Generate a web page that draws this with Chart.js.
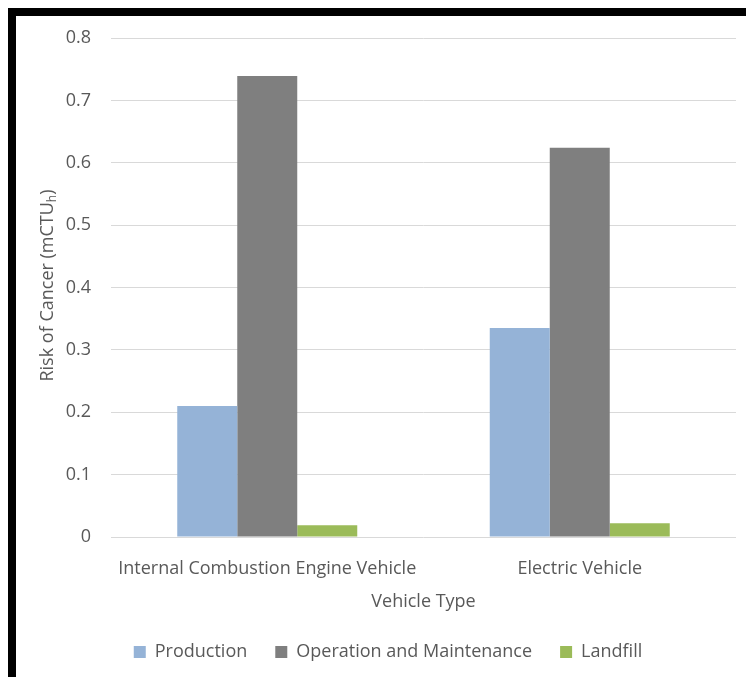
<!DOCTYPE html>
<html>
<head>
<meta charset="utf-8">
<script src="https://cdn.jsdelivr.net/npm/chart.js@4/dist/chart.umd.min.js"></script>
<style>
  html, body { margin: 0; padding: 0; background: #ffffff; }
  #wrap { width: 746px; height: 677px; position: relative; }
  canvas { display: block; }
</style>
</head>
<body>
<div id="wrap"><canvas id="chart" width="746" height="677"></canvas></div>
<script>
// Cancer risk by life-cycle stage for each vehicle type (mCTUh)
const categories = ['Internal Combustion Engine Vehicle', 'Electric Vehicle'];
const production = [0.21, 0.335];
const operationMaintenance = [0.739, 0.624];
const landfill = [0.019, 0.022];
const seriesNames = ['Production', 'Operation and Maintenance', 'Landfill'];
const yTickLabels = ['0', '0.1', '0.2', '0.3', '0.4', '0.5', '0.6', '0.7', '0.8'];

const FONT = '"Open Sans", "Liberation Sans", sans-serif';
const TEXT = '#595959';
const SIZE = 18;

// Black frame along the top and left edges
const framePlugin = {
  id: 'frame',
  beforeDraw(chart) {
    const ctx = chart.ctx;
    ctx.save();
    ctx.fillStyle = '#ffffff';
    ctx.fillRect(0, 0, chart.width, chart.height);
    ctx.fillStyle = '#000000';
    ctx.fillRect(8, 8, chart.width - 8, 8);
    ctx.fillRect(8, 8, 8, chart.height - 8);
    ctx.restore();
  }
};

// Nudge the legend row to sit centred under the whole figure
const legendShift = {
  id: 'legendShift',
  afterLayout(chart) {
    if (chart.legend) {
      chart.legend.left += 12;
      chart.legend.right += 12;
    }
  }
};

// Rotated y-axis title with a subscript "h"
const yTitlePlugin = {
  id: 'yTitle',
  afterDraw(chart) {
    const ctx = chart.ctx;
    const area = chart.chartArea;
    const main = 'Risk of Cancer (mCTU';
    const sub = 'h';
    const tail = ')';
    ctx.save();
    ctx.translate(48, (area.top + area.bottom) / 2 - 2);
    ctx.rotate(-Math.PI / 2);
    ctx.fillStyle = TEXT;
    ctx.textBaseline = 'middle';
    ctx.font = SIZE + 'px ' + FONT;
    const w1 = ctx.measureText(main).width;
    const w3 = ctx.measureText(tail).width;
    ctx.font = '12px ' + FONT;
    const w2 = ctx.measureText(sub).width;
    let x = -(w1 + w2 + w3) / 2;
    ctx.font = SIZE + 'px ' + FONT;
    ctx.fillText(main, x, 0);
    x += w1;
    ctx.font = '12px ' + FONT;
    ctx.fillText(sub, x, 5);
    x += w2;
    ctx.font = SIZE + 'px ' + FONT;
    ctx.fillText(tail, x, 0);
    ctx.restore();
  }
};

new Chart(document.getElementById('chart'), {
  type: 'bar',
  data: {
    labels: categories,
    datasets: [
      { label: seriesNames[0], data: production, backgroundColor: '#95b3d7' },
      { label: seriesNames[1], data: operationMaintenance, backgroundColor: '#7f7f7f' },
      { label: seriesNames[2], data: landfill, backgroundColor: '#9bbb59' }
    ]
  },
  options: {
    responsive: false,
    animation: false,
    layout: { padding: { left: 16, top: 38, right: 10, bottom: 6 } },
    datasets: { bar: { barPercentage: 1, categoryPercentage: 0.576, borderWidth: 0 } },
    scales: {
      x: {
        grid: { display: false },
        border: { display: false },
        ticks: { color: TEXT, font: { family: FONT, size: SIZE }, padding: 13, maxRotation: 0 },
        title: { display: true, text: 'Vehicle Type', color: TEXT, font: { family: FONT, size: SIZE }, padding: { top: 4, bottom: 2 } },
        afterFit(scale) { scale.height = 78; }
      },
      y: {
        min: 0,
        max: 0.8,
        grid: { color: '#d9d9d9', lineWidth: 1, drawTicks: false },
        border: { display: false },
        ticks: {
          stepSize: 0.1,
          color: TEXT,
          font: { family: FONT, size: SIZE },
          padding: 20,
          callback: (v, i) => yTickLabels[i]
        },
        afterFit(scale) { scale.width = 95; }
      }
    },
    plugins: {
      legend: {
        position: 'bottom',
        labels: { boxWidth: 12, boxHeight: 12, color: TEXT, font: { family: FONT, size: SIZE }, padding: 28 }
      },
      tooltip: { enabled: false }
    }
  },
  plugins: [framePlugin, legendShift, yTitlePlugin]
});
</script>
</body>
</html>
